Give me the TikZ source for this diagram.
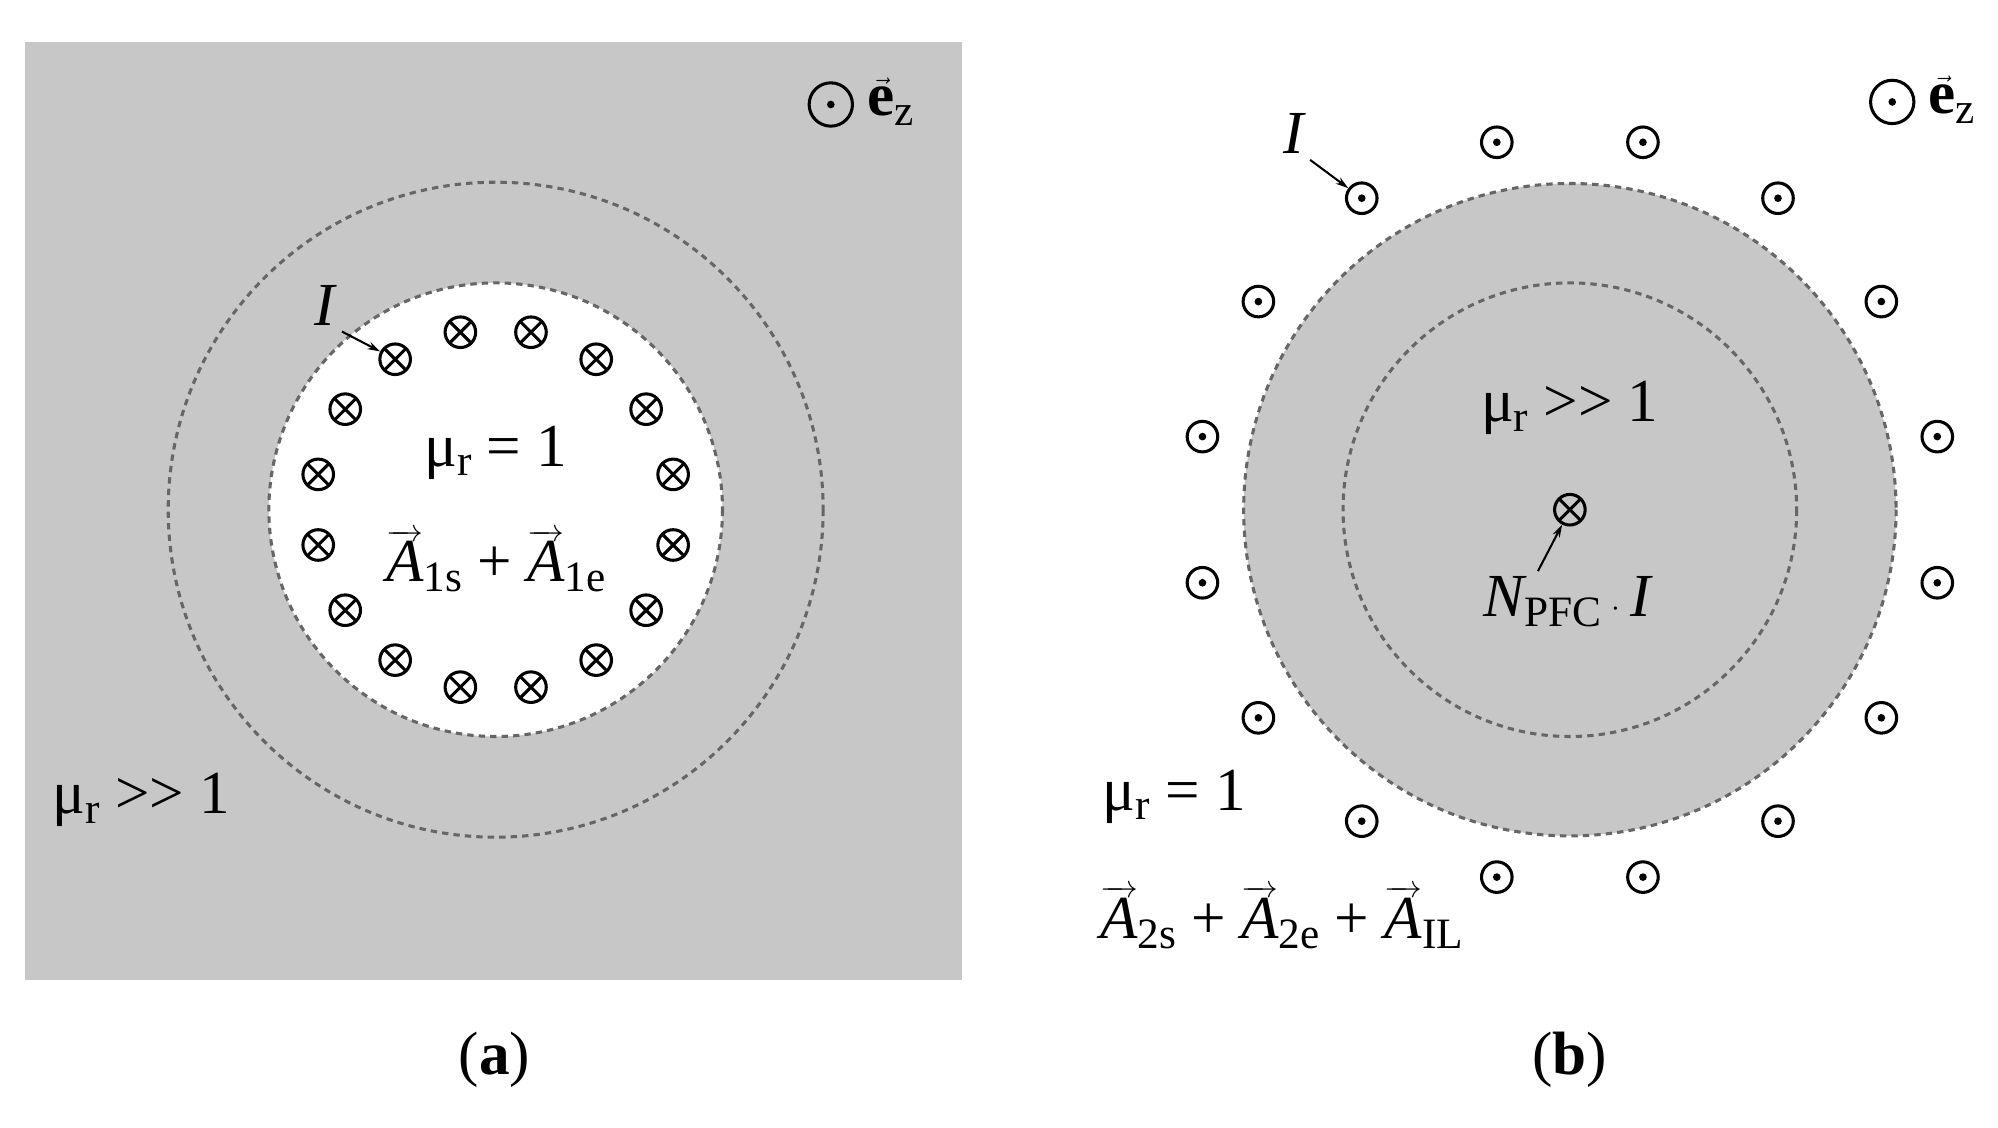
\documentclass[tikz,border=0pt]{standalone}
\usepackage{fontspec}
\usepackage{amsmath}
\setmainfont{Liberation Serif}
\usetikzlibrary{arrows.meta}
\newcommand{\subr}[1]{\raisebox{-0.35ex}{\fontsize{34}{34}\selectfont #1}}
\newcommand{\vA}{\ensuremath{\overrightarrow{\text{\itshape A}}}}
\tikzset{
  every node/.style={font=\fontsize{48}{56}\selectfont},
  bnd/.style={draw=black!60,line width=2.4pt,dash pattern=on 5pt off 4pt},
  xc/.style={circle,draw,line width=2.4pt,minimum size=24pt,inner sep=0pt,fill=white,
    path picture={\draw[line width=2.4pt] (path picture bounding box.north west)--(path picture bounding box.south east)
      (path picture bounding box.north east)--(path picture bounding box.south west);}},
  xcg/.style={xc,fill=none},
  dc/.style={circle,draw,line width=2.4pt,minimum size=24pt,inner sep=0pt,
    path picture={\fill (path picture bounding box.center) circle (3pt);}},
  dcb/.style={dc,minimum size=34pt},
  lbl/.style={->,>={Stealth[length=10pt,width=6pt]},line width=1.6pt,shorten <=2pt}
}
\begin{document}
\begin{tikzpicture}[x=1pt,y=-1pt]
\useasboundingbox (0,0) rectangle (1568,885);
% panel a
\fill[black!22] (20,33) rectangle (755,769);
\draw[bnd] (389,400) circle (257);
\fill[white] (389,400) circle (178);
\draw[bnd] (389,400) circle (178);
\foreach \i in {0,...,15}{
  \node[xc] (ca\i) at ({389+142*cos(11.25+22.5*\i)},{400-142*sin(11.25+22.5*\i)}) {};
}
\node (Ia) at (255,240) {\itshape I};
\draw[lbl] (Ia.south east) -- (ca5);
\node (mua) at (389,355) {μ\subr{r} = 1};
\node (Aa) at (389,440) {\vA\subr{1s} + \vA\subr{1e}};
\node[anchor=west] (mua2) at (38,628) {μ\subr{r} >{}> 1};
\node[dcb] (eza) at (652,82) {};
\node[anchor=west] (ezat) at (677,80) {$\vec{\text{\bfseries e}}$\subr{z}};
\node (la) at (388,832) {(\textbf{a})};
% panel b
\fill[black!22] (1232,400) circle (256);
\draw[bnd] (1232,400) circle (256);
\draw[bnd] (1232,400) circle (178);
\foreach \i in {0,...,15}{
  \node[dc] (cb\i) at ({1232+294*cos(11.25+22.5*\i)},{400-294*sin(11.25+22.5*\i)}) {};
}
\node[xcg] (cc) at (1232,400) {};
\node (Ib) at (1015,105) {\itshape I};
\draw[lbl] (Ib.south east) -- (cb5);
\node (mub) at (1232,320) {μ\subr{r} >{}> 1};
\node (npfc) at (1230,472) {\itshape N\subr{\upshape PFC}\,$\cdot$\,I};
\coordinate (np) at (1206,450);
\draw[lbl] (np) -- (cc);
\node[anchor=west] (mub2) at (862,625) {μ\subr{r} = 1};
\node[anchor=west] (Ab) at (860,720) {\vA\subr{2s} + \vA\subr{2e} + \vA\subr{IL}};
\node[dcb] (ezb) at (1485,80) {};
\node[anchor=west] (ezbt) at (1510,78) {$\vec{\text{\bfseries e}}$\subr{z}};
\node (lb) at (1232,832) {(\textbf{b})};
\end{tikzpicture}
\end{document}
